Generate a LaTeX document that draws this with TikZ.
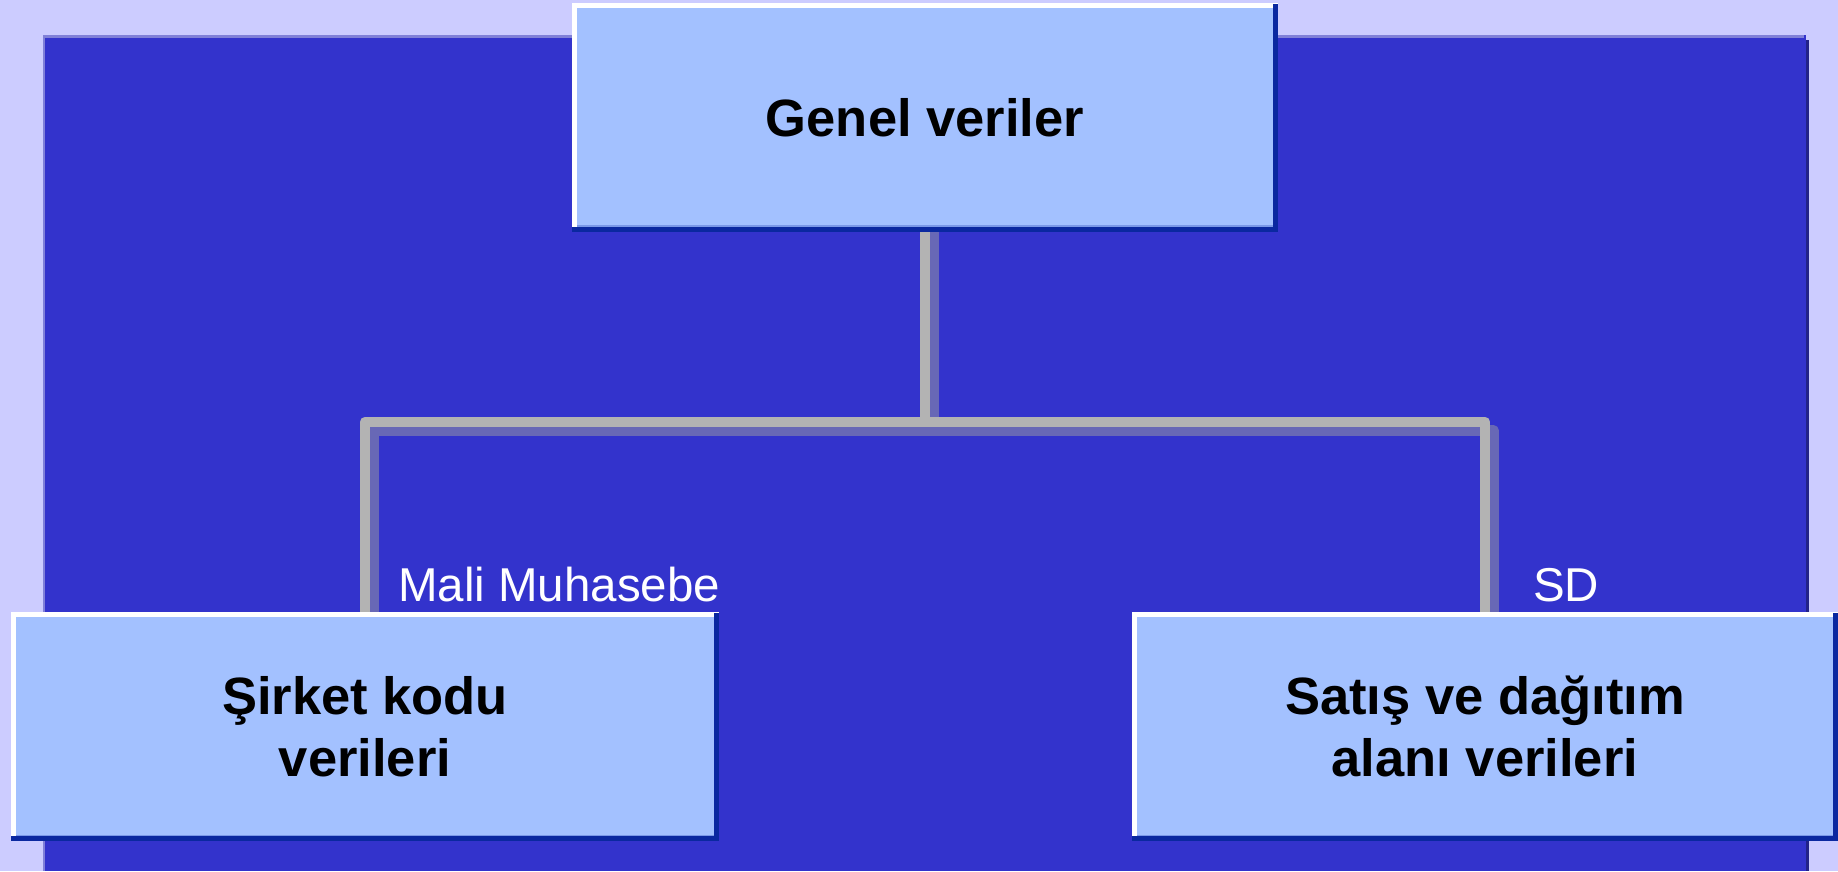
\documentclass[tikz,border=0pt]{standalone}
\usepackage{fontspec}
\setmainfont{Liberation Sans}
\definecolor{lav}{HTML}{CCCCFF}
\definecolor{bluebg}{HTML}{3333CC}
\definecolor{toplight}{HTML}{8080D8}
\definecolor{rightdark}{HTML}{222288}
\definecolor{boxfill}{HTML}{A3C1FF}
\definecolor{edgedark}{HTML}{0A28A0}
\definecolor{edgelight}{HTML}{7A98E8}
\definecolor{conngray}{HTML}{B3B3B3}
\definecolor{connshadow}{HTML}{6868B6}
\pgfdeclarelayer{bg}
\pgfsetlayers{bg,main}
\begin{document}
\begin{tikzpicture}[x=1pt,y=-1pt,
  box/.style={rectangle, fill=boxfill, inner sep=0pt, minimum height=228pt,
    align=center, text=black, font=\fontsize{52.5}{62}\selectfont\bfseries},
  lbl/.style={inner sep=0pt, text=white, font=\fontsize{47.5}{57}\selectfont},
  conn/.style={draw=conngray, line width=10.5pt, line join=round},
  connsh/.style={draw=connshadow, line width=10.5pt, line join=round,
    transform canvas={xshift=8.5pt, yshift=-8.5pt}}]
\useasboundingbox (0,0) rectangle (1838,871);

\node[box, minimum width=706pt] (top) at (925,117.5) {Genel veriler};
\node[box, minimum width=708pt, minimum height=229pt] (left) at (365,726.5) {Şirket kodu\\verileri};
\node[box, minimum width=706pt, minimum height=229pt] (right) at (1485,726.5) {Satış ve dağıtım\\alanı verileri};

\foreach \n in {top,left,right}{
  \fill[white] (\n.north west) rectangle ([yshift=-5pt]\n.north east);
  \fill[white] (\n.north west) rectangle ([xshift=5pt]\n.south west);
  \fill[edgelight] ([xshift=5pt,yshift=5pt]\n.south west) rectangle ([xshift=-5pt,yshift=6.5pt]\n.south east);
  \fill[edgedark] (\n.south west) rectangle ([yshift=5pt]\n.south east);
  \fill[edgedark] ([xshift=-5.5pt,yshift=-1pt]\n.north east) rectangle (\n.south east);
}

\node[lbl, anchor=base west] (lm) at (398,601) {Mali Muhasebe};
\node[lbl, anchor=base west] (sd) at (1533,601) {SD};

\coordinate (j) at (925,422);

\begin{pgfonlayer}{bg}
  \fill[lav] (0,0) rectangle (1838,871);
  \fill[bluebg] (43,35) rectangle (1806,871);
  \fill[toplight] (43,35) rectangle (1804,38);
  \fill[toplight] (43,35) rectangle (45,871);
  \fill[rightdark] (1806,40) rectangle (1809,871);
  \draw[connsh] (left.north) -- (left.north |- j) -- (right.north |- j) -- (right.north);
  \draw[connsh] ([yshift=12pt]top.south) -- (j);
  \draw[conn] (left.north) -- (left.north |- j) -- (right.north |- j) -- (right.north);
  \draw[conn] (top.south) -- (j);
\end{pgfonlayer}
\end{tikzpicture}
\end{document}
